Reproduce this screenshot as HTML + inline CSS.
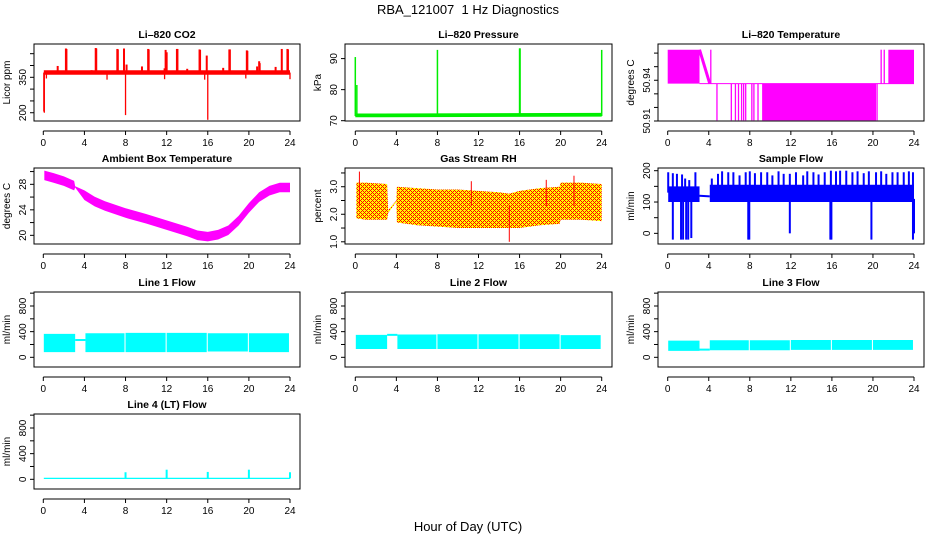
<!DOCTYPE html>
<html><head><meta charset="utf-8"><style>
html,body{margin:0;padding:0;background:#fff;}
svg{display:block;font-family:"Liberation Sans",sans-serif;}
</style></head><body>
<svg id="fig" width="936" height="540" viewBox="0 0 936 540">
<defs>
<pattern id="rhpat" width="4" height="4" patternUnits="userSpaceOnUse">
<rect width="4" height="4" fill="#ffff00"/>
<rect x="0" y="0" width="1" height="1" fill="#ff0000"/>
<rect x="1" y="1" width="1" height="1" fill="#ff0000"/>
<rect x="2" y="2" width="1" height="1" fill="#ff0000"/>
<rect x="3" y="3" width="1" height="1" fill="#ff0000"/>
<rect x="3" y="1" width="1" height="1" fill="#ff0000"/>
<rect x="1" y="3" width="1" height="1" fill="#ff0000"/>
</pattern>
</defs>
<text x="468" y="14" text-anchor="middle" font-size="13" xml:space="preserve">RBA_121007  1 Hz Diagnostics</text>
<text x="468" y="531" text-anchor="middle" font-size="13">Hour of Day (UTC)</text>
</svg>
<script>
// ---------- data ----------
const xTicks = [0,4,8,12,16,20,24];

// CO2
const co2BandHours = [0.05,24];
const co2BandLow = [361,361];
const co2BandHigh = [380,380];
const co2SpikeHours = [2.2,2.25,5.1,5.15,7.2,7.25,7.85,10.2,10.25,11.9,12.0,13.0,13.05,15.2,15.25,15.9,18.1,18.15,19.8,19.85,21.0,21.05,23.2,23.75,23.8,1.4,4.7,8.1,9.6,11.8,14.0,17.5,20.8,22.6];
const co2SpikeValues = [472,470,474,472,470,468,472,470,468,466,456,470,470,468,466,442,468,468,464,462,418,410,470,470,468,398,380,404,396,388,386,390,396,394];
const co2DipHours = [0.05,0.1,8.0,16.0,0.3,6.2,11.8,15.7,19.7,24.0];
const co2DipValues = [205,200,190,170,345,340,342,340,345,342];

// Pressure
const presBandHours = [0,24];
const presBandLow = [71.1,71.3];
const presBandHigh = [72.3,72.5];
const presSpikeHours = [0.0,0.15,8.0,16.0,16.05,24.0];
const presSpikeValues = [90.5,81.5,92.8,93.3,93.3,92.8];

// Li-820 temperature
const ltBlockStart = [0.0,9.2,21.5];
const ltBlockEnd = [3.1,20.3,24.0];
const ltBlockLow = [50.9375,50.9105,50.9375];
const ltBlockHigh = [50.9625,50.9375,50.9625];
const ltRampHours = [3.1,4.1];
const ltRampValues = [50.9625,50.9375];
const ltLevelHours = [3.1,24];
const ltLevelValues = [50.9375,50.9375];
const ltLineHours = [4.2,4.8,6.2,6.6,6.9,7.2,7.4,7.6,8.2,8.4,8.8,20.4,20.8,21.1];
const ltLineLow = [50.9375,50.9105,50.9105,50.9105,50.9105,50.9105,50.9105,50.9105,50.9105,50.9105,50.9105,50.9105,50.9375,50.9375];
const ltLineHigh = [50.9625,50.9375,50.9375,50.9375,50.9375,50.9375,50.9375,50.9375,50.9375,50.9375,50.9375,50.9375,50.9625,50.9625];

// Ambient box temperature
const ambHours = [0.1,1,2,3,3.1,4,5,6,8,10,12,14,15,16,17,18,19,20,21,22,23,24];
const ambValues = [29.4,29.0,28.5,27.8,27.6,26.3,25.3,24.6,23.5,22.6,21.6,20.6,20.0,19.8,20.1,20.8,22.3,24.3,26.0,27.0,27.5,27.5];
const ambHalfWidth = [0.75,0.75,0.75,0.75,0.1,0.75,0.75,0.75,0.75,0.75,0.75,0.75,0.75,0.75,0.75,0.75,0.75,0.75,0.75,0.75,0.75,0.75];

// Gas stream RH
const rhHours = [0.1,1,3.1,3.2,4.0,4.05,6,8,10,12,14,15,16,18,19.9,20,22,24];
const rhHigh = [3.15,3.15,3.1,2.15,2.5,3.0,2.95,2.9,2.9,2.85,2.8,2.75,2.85,2.95,3.0,3.15,3.15,3.1];
const rhLow = [1.85,1.8,1.8,2.05,2.45,1.7,1.6,1.55,1.5,1.5,1.5,1.5,1.5,1.6,1.65,1.8,1.8,1.75];
const rhSpikeHours = [0.4,11.3,15.0,21.3,18.6];
const rhSpikeValues = [3.55,3.2,1.0,3.4,3.25];

// Sample flow
const sfBandStart = [0.05,4.1];
const sfBandEnd = [3.1,24.0];
const sfBandLow = [100,100];
const sfBandHigh = [150,155];
const sfGapHours = [3.1,4.1];
const sfGapValues = [120,118];
const sfUpHours = [0.05,0.5,0.9,1.4,1.7,2.1,2.7,4.3,4.9,5.3,5.9,6.4,7.0,7.6,8.0,8.5,9.1,9.7,10.2,10.8,11.3,11.9,12.5,13.2,13.6,14.2,14.7,15.3,15.9,16.4,16.8,17.4,18.0,18.5,19.1,19.6,20.3,20.8,21.3,21.9,22.4,23.0,23.5,23.9];
const sfUpValues = [195,192,190,188,175,170,195,175,190,198,195,195,185,195,198,192,195,195,185,198,190,190,195,185,198,195,188,195,200,198,200,200,195,198,192,198,195,198,190,195,195,195,198,195];
const sfDownHours = [0.5,1.3,1.5,1.8,2.0,2.3,7.85,7.95,11.9,15.85,15.95,19.85,23.9,24.0];
const sfDownValues = [-20,-20,-20,-20,-20,-15,-20,-20,0,-20,-20,-20,-20,0];

// Line flows (segments share hours)
const lfSegStart = [0.05,4.1,8.0,12.0,16.0,20.0];
const lfSegEnd = [3.1,7.9,11.9,15.9,19.9,23.9];
const l1Low = [80,80,80,80,90,80];
const l1High = [365,375,380,380,375,375];
const l1Gap = 270;
const l2Low = [130,130,130,130,130,130];
const l2High = [350,355,360,360,360,345];
const l2Gap = 350;
const l3Low = [100,110,110,115,115,115];
const l3High = [260,265,265,270,270,270];
const l3Gap = 120;
const l4Base = [5,25];
const l4SpikeHours = [8.0,12.0,16.0,20.0,24.0];
const l4SpikeValues = [110,150,115,150,110];

// ---------- layout ----------
const NS = "http://www.w3.org/2000/svg";
const svg = document.getElementById("fig");
const colL = [34,345,658], colR = [300,612,924], colX0 = [43.3,355.3,667.7], colX24 = [290,601.7,914];
const rowT = [44,168,292,414], rowB = [121,244,367,489];

function mk(tag, attrs, parent){const e=document.createElementNS(NS,tag);for(const k in attrs)e.setAttribute(k,attrs[k]);(parent||svg).appendChild(e);return e;}

function panel(name, title, ylab, col, row, ymin, ymax, yticks, ylabels){
  const g = mk("g",{});
  
  
  const L=colL[col],R=colR[col],T=rowT[row],B=rowB[row];
  const xs = h => colX0[col] + h*(colX24[col]-colX0[col])/24;
  const ys = v => B - (v-ymin)/(ymax-ymin)*(B-T);
  const t = mk("text",{x:(L+R)/2,y:T-6,"text-anchor":"middle","font-size":"10.5","font-weight":"bold"},g);
  t.textContent = title;
  
  
  const yl = mk("text",{x:0,y:0,"text-anchor":"middle","font-size":"10",transform:`translate(${L-24},${(T+B)/2}) rotate(-90)`},g);
  yl.textContent = ylab;
  
  
  const plot = mk("g",{},g);
  
  
  const ax = mk("g",{stroke:"#000","stroke-width":"1",fill:"none"},g);
  
  
  mk("rect",{x:L,y:T,width:R-L,height:B-T},ax);
  const xa=B+10;
  mk("line",{x1:xs(0),x2:xs(24),y1:xa,y2:xa},ax);
  xTicks.forEach(h=>{
    mk("line",{x1:xs(h),x2:xs(h),y1:xa,y2:xa+4},ax);
    const tl = mk("text",{x:xs(h),y:xa+15,"text-anchor":"middle","font-size":"10",stroke:"none",fill:"#000"},g);
    tl.textContent = h;
    
    
  });
  yticks.forEach((v,i)=>{
    mk("line",{x1:L-4,x2:L,y1:ys(v),y2:ys(v)},ax);
    if(ylabels[i]!==""){
      const tl = mk("text",{x:0,y:0,"text-anchor":"middle","font-size":"10",transform:`translate(${L-8},${ys(v)}) rotate(-90)`},g);
      tl.textContent = ylabels[i];
      
      
    }
  });
  return {plot,xs,ys};
}
function band(p, hours, low, high, fill, name){
  let pts = hours.map((h,i)=>p.xs(h)+","+p.ys(high[i]));
  for(let i=hours.length-1;i>=0;i--) pts.push(p.xs(hours[i])+","+p.ys(low[i]));
  const e = mk("polygon",{points:pts.join(" "),fill:fill,stroke:"none"},p.plot);
  
  
}
function vline(p,h,v0,v1,color,w,name){
  const e = mk("line",{x1:p.xs(h),x2:p.xs(h),y1:p.ys(v0),y2:p.ys(v1),stroke:color,"stroke-width":w},p.plot);
  
  
}
function pline(p,hours,vals,color,w,name){
  const e = mk("polyline",{points:hours.map((h,i)=>p.xs(h)+","+p.ys(vals[i])).join(" "),stroke:color,"stroke-width":w,fill:"none"},p.plot);
  
  
}

let p = panel("co2-panel","Li\u2013820 CO2","Licor ppm",0,0,165,491,[200,250,300,350,400,450],["200","","","350","",""]);
band(p,co2BandHours,co2BandLow,co2BandHigh,"#ff0000","co2-series");
co2SpikeHours.forEach((h,i)=>vline(p,h,370,co2SpikeValues[i],"#ff0000",2,"co2-spike"));
co2DipHours.forEach((h,i)=>vline(p,h,370,co2DipValues[i],"#ff0000",1.3,"co2-dip"));

p = panel("pressure-panel","Li\u2013820 Pressure","kPa",1,0,69.9,94.7,[70,80,90],["70","80","90"]);
band(p,presBandHours,presBandLow,presBandHigh,"#00ee00","pressure-series");
presSpikeHours.forEach((h,i)=>vline(p,h,71.5,presSpikeValues[i],"#00ee00",1.5,"pressure-spike"));

p = panel("li820-temperature-panel","Li\u2013820 Temperature","degrees C",2,0,50.91,50.9667,[50.91,50.92,50.93,50.94,50.95,50.96],["50.91","","","50.94","",""]);
ltBlockStart.forEach((s,i)=>band(p,[s,ltBlockEnd[i]],[ltBlockLow[i],ltBlockLow[i]],[ltBlockHigh[i],ltBlockHigh[i]],"#ff00ff","temperature-block"));
pline(p,ltRampHours,ltRampValues,"#ff00ff",3,"temperature-ramp");
pline(p,ltLevelHours,ltLevelValues,"#ff00ff",1,"temperature-level");
ltLineHours.forEach((h,i)=>vline(p,h,ltLineLow[i],ltLineHigh[i],"#ff00ff",1.3,"temperature-jump"));

p = panel("ambient-temperature-panel","Ambient Box Temperature","degrees C",0,1,18.64,30.56,[20,22,24,26,28,30],["20","","24","","28",""]);
band(p,ambHours,ambValues.map((v,i)=>v-ambHalfWidth[i]),ambValues.map((v,i)=>v+ambHalfWidth[i]),"#ff00ff","ambient-series");

p = panel("gas-rh-panel","Gas Stream RH","percent",1,1,0.92,3.68,[1.0,1.5,2.0,2.5,3.0,3.5],["1.0","","2.0","","3.0",""]);
band(p,rhHours,rhLow,rhHigh,"url(#rhpat)","rh-series");
rhSpikeHours.forEach((h,i)=>vline(p,h,2.3,rhSpikeValues[i],"#ff0000",1,"rh-spike"));

p = panel("sample-flow-panel","Sample Flow","ml/min",2,1,-34,208.6,[0,50,100,150,200],["0","","100","","200"]);
sfBandStart.forEach((s,i)=>band(p,[s,sfBandEnd[i]],[sfBandLow[i],sfBandLow[i]],[sfBandHigh[i],sfBandHigh[i]],"#0000ff","sample-flow-band"));
pline(p,sfGapHours,sfGapValues,"#0000ff",2,"sample-flow-gap");
sfUpHours.forEach((h,i)=>vline(p,h,130,sfUpValues[i],"#0000ff",2,"sample-flow-spike"));
sfDownHours.forEach((h,i)=>vline(p,h,110,sfDownValues[i],"#0000ff",2,"sample-flow-dip"));

const fticks=[0,200,400,600,800,1000], flabels=["0","","400","","800",""];
function linePanel(name,title,row,col,lows,highs,gap){
  const q = panel(name,title,"ml/min",col,row,-151,1018,fticks,flabels);
  lfSegStart.forEach((s,i)=>band(q,[s,lfSegEnd[i]],[lows[i],lows[i]],[highs[i],highs[i]],"#00ffff","flow-band"));
  pline(q,[3.1,4.1],[gap,gap],"#00ffff",2,"flow-gap");
  return q;
}
linePanel("line1-flow-panel","Line 1 Flow",2,0,l1Low,l1High,l1Gap);
linePanel("line2-flow-panel","Line 2 Flow",2,1,l2Low,l2High,l2Gap);
linePanel("line3-flow-panel","Line 3 Flow",2,2,l3Low,l3High,l3Gap);
p = panel("line4-flow-panel","Line 4 (LT) Flow","ml/min",0,3,-151,1018,fticks,flabels);
band(p,[0.05,24],[l4Base[0],l4Base[0]],[l4Base[1],l4Base[1]],"#00ffff","line4-series");
l4SpikeHours.forEach((h,i)=>vline(p,h,15,l4SpikeValues[i],"#00ffff",2,"line4-spike"));
</script>
</body></html>
